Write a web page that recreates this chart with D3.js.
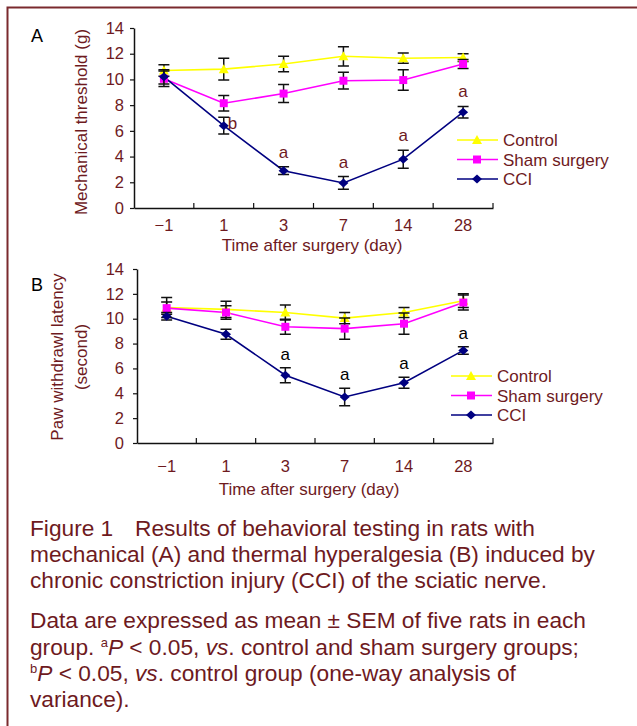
<!DOCTYPE html>
<html>
<head>
<meta charset="utf-8">
<script src="https://cdn.jsdelivr.net/npm/d3@7"></script>
<style>
  body { margin: 0; background: #fff; }
  svg text { font-family: "Liberation Sans", Arial, sans-serif; }
</style>
</head>
<body>
<div id="chart"></div>
<script>
// time points (days after surgery)
let days = ["\u22121", "1", "3", "7", "14", "28"];
let y_ticks = [0, 2, 4, 6, 8, 10, 12, 14];
let series_names = ["Control", "Sham surgery", "CCI"];

// panel A - mechanical threshold (g), mean and SEM
let control_a = [10.7, 10.8, 11.2, 11.8, 11.65, 11.7];
let control_a_err = [0.45, 0.85, 0.6, 0.75, 0.4, 0.3];
let sham_a = [10.05, 8.15, 8.9, 9.9, 9.95, 11.2];
let sham_a_err = [0.6, 0.6, 0.7, 0.65, 0.8, 0.35];
let cci_a = [10.2, 6.4, 2.9, 1.95, 3.8, 7.45];
let cci_a_err = [0.55, 0.65, 0.3, 0.5, 0.7, 0.45];
let marks_a = ["", "b", "a", "a", "a", "a"];

// panel B - paw withdrawl latency (s), mean and SEM
let control_b = [10.9, 10.75, 10.5, 10.05, 10.5, 11.45];
let control_b_err = [0.8, 0.65, 0.6, 0.45, 0.4, 0.55];
let sham_b = [10.85, 10.5, 9.35, 9.2, 9.6, 11.3];
let sham_b_err = [0.5, 0.55, 0.6, 0.85, 0.85, 0.6];
let cci_b = [10.2, 8.75, 5.45, 3.7, 4.85, 7.45];
let cci_b_err = [0.3, 0.4, 0.6, 0.7, 0.45, 0.3];
let marks_b = ["", "", "a", "a", "a", "a"];

let width = 637;
let height = 726;
let text_color = "#6e1a1e";
let colors = ["#ffff00", "#ff00ff", "#000080"];

let svg = d3
  .select("#chart")
  .append("svg")
  .attr("width", width)
  .attr("height", height);

svg.append("rect").attr("width", width).attr("height", height).attr("fill", "#fff");

// frame (open to the right and bottom, as in the page crop)
svg.append("path")
  .attr("d", "M7.5," + height + "V7.5H" + width)
  .attr("fill", "none")
  .attr("stroke", "#7a2a2e")
  .attr("stroke-width", 2);

// marker shapes
function marker(sel, k) {
  if (k == 0) sel.attr("d", "M0,-5L5,4L-5,4Z");
  else if (k == 1) sel.attr("d", "M-4,-4H4V4H-4Z");
  else sel.attr("d", "M0,-4.5L5,0L0,4.5L-5,0Z");
}

function panel(cfg) {
  let g = svg.append("g");

  let x_scale = d3.scaleBand().domain(days).range([cfg.left, cfg.right]);
  let y_scale = d3.scaleLinear().domain([0, 14]).range([cfg.bottom, cfg.top]);
  let cx = function (i) { return x_scale(days[i]) + x_scale.bandwidth() / 2; };

  // y axis
  let y_axis = g.append("g")
    .attr("transform", "translate(" + cfg.left + ",0)")
    .call(d3.axisLeft(y_scale).tickValues(y_ticks).tickSize(4).tickPadding(cfg.ypad).tickSizeOuter(0));
  y_axis.select(".domain").attr("stroke", "#111").attr("stroke-width", 1.5);
  y_axis.selectAll(".tick line").attr("stroke", "#111").attr("stroke-width", 1.2);
  y_axis.selectAll("text").attr("fill", text_color).style("font-size", "16.5px");

  // x axis: labels at band centres, inward ticks at band edges
  let x_axis = g.append("g")
    .attr("transform", "translate(0," + cfg.bottom + ")")
    .call(d3.axisBottom(x_scale).tickSize(0).tickPadding(cfg.xpad).tickSizeOuter(0));
  x_axis.select(".domain").attr("stroke", "#111").attr("stroke-width", 1.5);
  x_axis.selectAll("text").attr("fill", text_color).style("font-size", "16.5px");

  g.selectAll(".xtick")
    .data(days)
    .enter()
    .append("line")
    .attr("x1", function (d) { return x_scale(d) + x_scale.bandwidth(); })
    .attr("x2", function (d) { return x_scale(d) + x_scale.bandwidth(); })
    .attr("y1", cfg.bottom)
    .attr("y2", cfg.bottom - 5)
    .attr("stroke", "#111")
    .attr("stroke-width", 1.2);

  // titles
  g.append("text")
    .attr("x", cfg.xtitle_x)
    .attr("y", cfg.xtitle_y)
    .attr("text-anchor", "middle")
    .attr("fill", text_color)
    .style("font-size", "17px")
    .text("Time after surgery (day)");

  cfg.ytitle.forEach(function (t) {
    g.append("text")
      .attr("transform", "translate(" + t.x + "," + cfg.ytitle_y + ") rotate(-90)")
      .attr("text-anchor", "middle")
      .attr("fill", text_color)
      .style("font-size", "17px")
      .text(t.text);
  });

  g.append("text")
    .attr("x", 31)
    .attr("y", cfg.label_y)
    .attr("fill", "#000")
    .style("font-size", "18px")
    .text(cfg.label);

  let line = d3.line().x(function (d, i) { return cx(i); }).y(function (d) { return y_scale(d); });

  // lines
  cfg.series.forEach(function (s, k) {
    g.append("path")
      .datum(s.values)
      .attr("d", line)
      .attr("fill", "none")
      .attr("stroke", colors[k])
      .attr("stroke-width", 1.6);
  });

  // error bars + markers
  cfg.series.forEach(function (s, k) {
    g.selectAll(".eb" + k)
      .data(s.values)
      .enter()
      .append("path")
      .attr("d", function (d, i) {
        let x = cx(i);
        let y1 = y_scale(d + s.err[i]);
        let y2 = y_scale(d - s.err[i]);
        return "M" + (x - 5.5) + "," + y1 + "H" + (x + 5.5) +
          "M" + x + "," + y1 + "V" + y2 +
          "M" + (x - 5.5) + "," + y2 + "H" + (x + 5.5);
      })
      .attr("fill", "none")
      .attr("stroke", "#111")
      .attr("stroke-width", 1.5);

    g.selectAll(".mk" + k)
      .data(s.values)
      .enter()
      .append("path")
      .call(marker, k)
      .attr("transform", function (d, i) { return "translate(" + cx(i) + "," + y_scale(d) + ")"; })
      .attr("fill", colors[k]);
  });

  // significance letters on the CCI series
  let cci = cfg.series[2];
  let sig = cfg.marks
    .map(function (m, i) { return { mark: m, i: i }; })
    .filter(function (d) { return d.mark != ""; });

  g.selectAll(".sig")
    .data(sig)
    .enter()
    .append("text")
    .attr("x", function (d) { return d.mark == "b" ? cx(d.i) + 4 : cx(d.i); })
    .attr("y", function (d) {
      let v = cci.values[d.i];
      return d.mark == "b" ? y_scale(v) + 3 : y_scale(v + cci.err[d.i]) - cfg.sig_gap;
    })
    .attr("text-anchor", function (d) { return d.mark == "b" ? "start" : "middle"; })
    .attr("fill", cfg.sig_color)
    .style("font-size", "17px")
    .text(function (d) { return d.mark; });

  // legend
  series_names.forEach(function (name, k) {
    let y = cfg.legend_y + k * cfg.legend_step;
    g.append("line")
      .attr("x1", cfg.legend_x)
      .attr("x2", cfg.legend_x + 41)
      .attr("y1", y)
      .attr("y2", y)
      .attr("stroke", colors[k])
      .attr("stroke-width", 1.6);
    g.append("path")
      .call(marker, k)
      .attr("transform", "translate(" + (cfg.legend_x + 20) + "," + y + ")")
      .attr("fill", colors[k]);
    g.append("text")
      .attr("x", cfg.legend_x + 46)
      .attr("y", y + 6)
      .attr("fill", text_color)
      .style("font-size", "17px")
      .text(name);
  });
}

panel({
  label: "A", label_y: 42,
  left: 134, right: 493, top: 28, bottom: 208,
  ypad: 6, xpad: 11,
  xtitle_x: 312, xtitle_y: 251,
  ytitle: [{ x: 87, text: "Mechanical threshold (g)" }], ytitle_y: 122,
  series: [
    { values: control_a, err: control_a_err },
    { values: sham_a, err: sham_a_err },
    { values: cci_a, err: cci_a_err }
  ],
  marks: marks_a, sig_color: text_color, sig_gap: 9,
  legend_x: 457, legend_y: 140, legend_step: 19.5
});

panel({
  label: "B", label_y: 291,
  left: 137, right: 493, top: 269, bottom: 443,
  ypad: 9, xpad: 17,
  xtitle_x: 309, xtitle_y: 495,
  ytitle: [{ x: 63, text: "Paw withdrawl latency" }, { x: 87, text: "(second)" }], ytitle_y: 357,
  series: [
    { values: control_b, err: control_b_err },
    { values: sham_b, err: sham_b_err },
    { values: cci_b, err: cci_b_err }
  ],
  marks: marks_b, sig_color: "#000", sig_gap: 8,
  legend_x: 451, legend_y: 376, legend_step: 19.5
});

// caption
let cap = svg.append("g").attr("fill", text_color).style("font-size", "22.7px");

cap.append("text").attr("x", 30).attr("y", 536).text("Figure 1");
cap.append("text").attr("x", 135).attr("y", 536).text("Results of behavioral testing in rats with");
cap.append("text").attr("x", 30).attr("y", 562).text("mechanical (A) and thermal hyperalgesia (B) induced by");
cap.append("text").attr("x", 30).attr("y", 588).text("chronic constriction injury (CCI) of the sciatic nerve.");

cap.append("text").attr("x", 30).attr("y", 628).text("Data are expressed as mean \u00b1 SEM of five rats in each");

let l2 = cap.append("text").attr("x", 30).attr("y", 655);
l2.append("tspan").text("group. ");
l2.append("tspan").attr("dy", -8).style("font-size", "13px").text("a");
l2.append("tspan").attr("dy", 8).style("font-style", "italic").text("P");
l2.append("tspan").text(" < 0.05, ");
l2.append("tspan").style("font-style", "italic").text("vs");
l2.append("tspan").text(". control and sham surgery groups;");

let l3 = cap.append("text").attr("x", 30).attr("y", 681);
l3.append("tspan").attr("dy", -8).style("font-size", "13px").text("b");
l3.append("tspan").attr("dy", 8).style("font-style", "italic").text("P");
l3.append("tspan").text(" < 0.05, ");
l3.append("tspan").style("font-style", "italic").text("vs");
l3.append("tspan").text(". control group (one-way analysis of");

cap.append("text").attr("x", 30).attr("y", 707).text("variance).");
</script>
</body>
</html>
